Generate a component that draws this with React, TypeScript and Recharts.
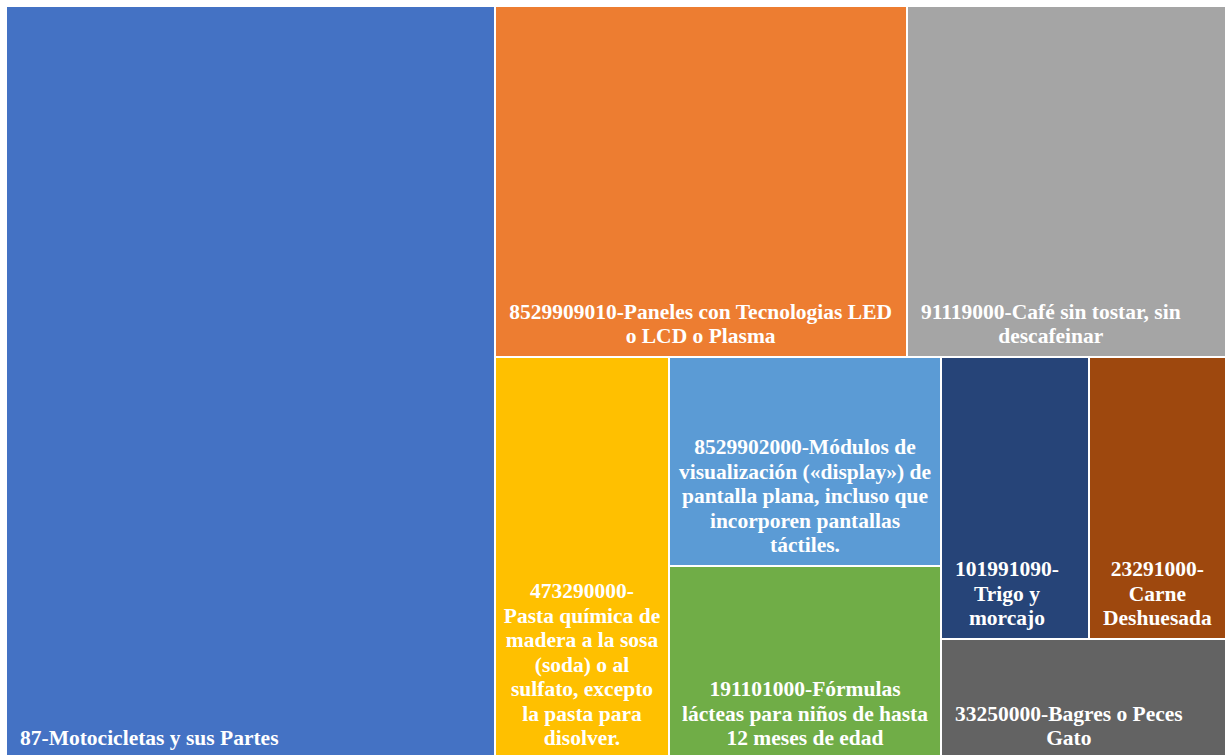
import React from 'react';
import { Treemap } from 'recharts';

// Labels (line breaks as in the reference), values and colours
const labels: string[] = [
  '87-Motocicletas y sus Partes',
  '8529909010-Paneles con Tecnologias LED\no LCD o Plasma',
  '91119000-Café sin tostar, sin\ndescafeinar',
  '473290000-\nPasta química de\nmadera a la sosa\n(soda) o al\nsulfato, excepto\nla pasta para\ndisolver.',
  '8529902000-Módulos de\nvisualización («display») de\npantalla plana, incluso que\nincorporen pantallas\ntáctiles.',
  '191101000-Fórmulas\nlácteas para niños de hasta\n12 meses de edad',
  '101991090-\nTrigo y\nmorcajo',
  '23291000-\nCarne\nDeshuesada',
  '33250000-Bagres o Peces\nGato',
];

const values: number[] = [367.8, 144.4, 112.0, 70.0, 56.8, 52.6, 41.7, 38.8, 34.4];

const colors: string[] = [
  '#4472C4',
  '#ED7D31',
  '#A5A5A5',
  '#FFC000',
  '#5B9BD5',
  '#70AD47',
  '#264478',
  '#9E480E',
  '#636363',
];

const leaf = (i: number) => ({ name: labels[i].replace(/-\n/g, '-').replace(/\n/g, ' '), value: values[i], leafIndex: i });

// Grouping that reproduces the slice layout of the original
const data = [
  leaf(0),
  {
    name: 'rest',
    children: [
      { name: 'top', children: [leaf(1), leaf(2)] },
      {
        name: 'bottom',
        children: [
          leaf(3),
          { name: 'mid', children: [leaf(4), leaf(5)] },
          {
            name: 'right',
            children: [{ name: 'rightTop', children: [leaf(6), leaf(7)] }, leaf(8)],
          },
        ],
      },
    ],
  },
];

const FONT_SIZE = 21.5;
const FONT_FAMILY = "'Liberation Serif', 'Times New Roman', serif";
const LINE_H = 24.5;
const PAD = 14;
const BOTTOM_PAD = 14;

let ctx: CanvasRenderingContext2D | null = null;
const measure = (s: string): number => {
  if (!ctx) ctx = document.createElement('canvas').getContext('2d');
  if (!ctx) return s.length * FONT_SIZE * 0.5;
  ctx.font = `bold ${FONT_SIZE}px ${FONT_FAMILY}`;
  return ctx.measureText(s).width;
};

const CellContent = (props: any) => {
  const { x, y, width, height, leafIndex, children } = props;
  if (leafIndex === undefined || leafIndex === null || (children && children.length)) return null;
  const lines = labels[leafIndex].split('\n');
  const blockW = Math.max(...lines.map(measure));
  const left = x + PAD;
  const cx = blockW > width - 2 * PAD ? x + width / 2 : left + blockW / 2;
  const lastBaseline = y + height - BOTTOM_PAD;
  const n = lines.length;
  return (
    <g>
      <rect
        x={x}
        y={y}
        width={width}
        height={height}
        fill={colors[leafIndex]}
        stroke="#ffffff"
        strokeWidth={2}
      />
      <text
        fill="#ffffff"
        fontFamily={FONT_FAMILY}
        fontWeight="bold"
        fontSize={FONT_SIZE}
        textAnchor="middle"
      >
        {lines.map((l, i) => (
          <tspan key={i} x={cx} y={lastBaseline - (n - 1 - i) * LINE_H}>
            {l}
          </tspan>
        ))}
      </text>
    </g>
  );
};

export default function App() {
  return (
    <div style={{ position: 'absolute', left: 6, top: 6 }}>
      <Treemap
        width={1220}
        height={753}
        data={data}
        dataKey="value"
        nameKey="name"
        aspectRatio={0.001}
        isAnimationActive={false}
        content={(p: any) => <CellContent {...p} />}
      />
    </div>
  );
}
